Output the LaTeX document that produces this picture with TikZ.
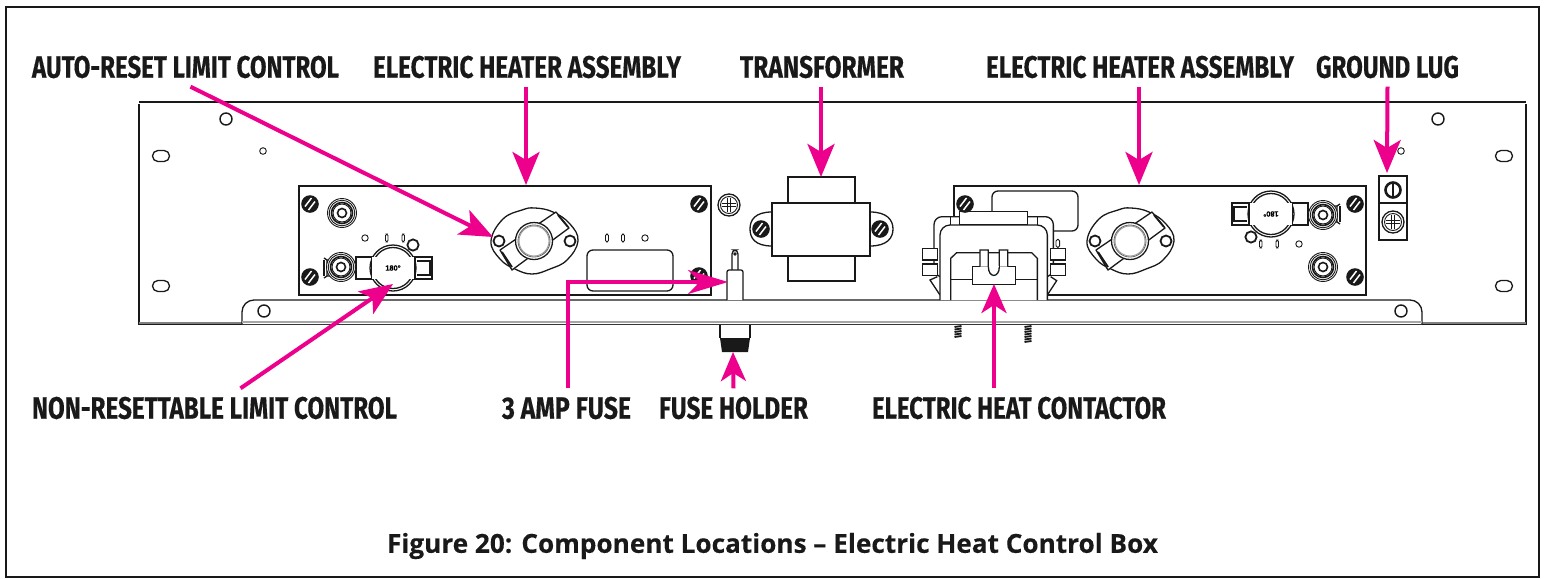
\documentclass[tikz,border=0pt]{standalone}
\usepackage{graphicx}
\usepackage{fontspec}
\setmainfont{Open Sans}
\newfontfamily\lblfont[FakeBold=0.35]{Fira Sans Bold}
\newfontfamily\capfont[FakeBold=0.25]{Open Sans Bold}
\newfontfamily\smallfont[FakeBold=0.4]{Liberation Sans Bold}
\usetikzlibrary{arrows.meta}
\newcommand{\lbl}[2]{\resizebox{#1pt}{11pt}{\lblfont #2}}
\tikzset{
  x=.5pt,y=-.5pt,
  ln/.style={draw=black!90,line width=.65pt},
  thin ln/.style={draw=black!90,line width=.45pt},
  callout/.style={inner sep=4pt,text=black!90},
  pink arrow/.style={draw=callpink,line width=2pt,-{Stealth[length=16.5pt,width=13.5pt,inset=4pt]}},
  screwp/.pic={
    \fill[black!90] (0,0) circle[radius=8.8];
    \draw[white,line width=.75pt] (-5,2.5)--(1.5,-6) (-1.5,6)--(5,-2.5);
  },
  nutp/.pic={
    \draw[thin ln,fill=white] (0,0) circle[radius=14.5];
    \draw[thin ln] (0,0) circle[radius=12.8];
    \draw[ln,line width=.8pt] (0,0) circle[radius=10.5];
    \draw[thin ln] (0,0) circle[radius=9];
    \draw[ln,line width=.8pt] (0,0) circle[radius=4.5];
  },
  phillipsp/.pic={
    \draw[ln] (0,0) circle[radius=11];
    \draw[thin ln] (0,0) circle[radius=8.5];
    \draw[ln,line width=.8pt] (-7,-1.5)--(7,-1.5) (-7,1.5)--(7,1.5) (-1.5,-7)--(-1.5,7) (1.5,-7)--(1.5,7);
  },
  slotp/.pic={
    \draw[ln,fill=white,rounded corners=2.7pt] (-8.5,-5.5) rectangle (8.5,5.5);
  },
  autoresetp/.pic={
    \draw[ln,fill=white] plot[smooth cycle,tension=.7] coordinates {(-43,0)(-31,-22)(-12,-31)(1,-33)(19,-29)(36,-17)(44,0)(33,19)(16,28)(-2,33)(-19,28)(-34,18)};
    \draw[ln,fill=white,line join=round] (-34,9)--(22,-29)--(35,-13)--(-22,29)--cycle;
    \draw[ln,line width=.9pt] (24,-26)--(34,-14) (-32,11)--(-22,26);
    \draw[ln,line width=.9pt,fill=white] (-35,0) circle[radius=5.5];
    \draw[ln,line width=.9pt,fill=white] (36,0) circle[radius=5.5];
    \draw[ln,fill=white] (0,0) circle[radius=18.5];
    \draw[thin ln,draw=black!60] (0,0) circle[radius=16];
    \draw[thin ln,draw=black!40] (0,0) circle[radius=15];
  },
  thermop/.pic={
    \draw[ln,fill=white] (-37,-11) rectangle (39,11);
    \draw[ln] (24,-7)--(37,-7)--(37,7)--(24,7);
    \draw[ln,fill=white] (0,0) circle[radius=23];
    \draw[ln] (0,0) circle[radius=20.5];
    \fill[white] (-21.2,-11) rectangle (21.7,11);
    \draw[ln] (-21.5,-11)--(-21.5,11) (22,-11)--(22,11);
    \node[transform shape,inner sep=0pt,font=\smallfont\fontsize{3.7}{5}\selectfont] at (0,0) {180°};
    \draw[thin ln] (-28,-30) circle[radius=3.2];
    \draw[thin ln,rounded corners=.8pt] (-7.5,-34) rectangle (-5,-26);
    \draw[thin ln,rounded corners=.8pt] (9,-34) rectangle (11.5,-26);
    \draw[ln,line width=.9pt] (20,-23) circle[radius=5.6];
    \draw[ln] (-53,-8)--(-66,-8)--(-69,-10) (-66,-8)--(-66,8)--(-69,10) (-53,8)--(-66,8);
    \draw[ln] (-69,-8)--(-69,8);
    \pic at (-52,-1) {nutp};
  },
}
\definecolor{callpink}{RGB}{236,0,140}
\begin{document}
\begin{tikzpicture}
\useasboundingbox (0,0) rectangle (1544,579);
% outer frame
\draw[draw=black!90,line width=1pt] (6,7) rectangle (1539,577);

% panel
\draw[ln] (139,103.5) -- (139,324) -- (1526,324) -- (1526,103.5);
\draw[ln,line width=1pt] (139,102) -- (1526,102);
\draw[ln,draw=black!50,line width=1pt] (139,322.5) -- (242,322.5) (1422,322.5) -- (1526,322.5);
\draw[ln,fill=white,rounded corners=6pt] (242,324) -- (242,300) -- (1422,300) -- (1422,324);
\draw[ln,draw=black!35,line width=.8pt] (242,321.8) -- (1422,321.8);
\foreach \p in {(226,119),(264,311),(1438,119),(1401,311)} \draw[ln,line width=.7pt] \p circle[radius=6];
\foreach \p in {(263,151),(1401,151)} \draw[thin ln] \p circle[radius=3.3];
\foreach \p in {(161,156),(161,286),(1504,156),(1504,286)} \pic at \p {slotp};

% left sub-panel
\draw[ln] (299,186) rectangle (711,295);
\foreach \p in {(310,204),(310,277),(699,204),(699,276)} \pic at \p {screwp};
\pic at (342,213) {nutp};
\pic at (393,268) {thermop};
\pic at (534,241) {autoresetp};
\draw[ln,fill=white,rounded corners=3pt] (587,250) rectangle (673,291);
\foreach \xx in {607,623} \draw[thin ln,rounded corners=.8pt] (\xx-1.5,234) rectangle (\xx+1.5,242);
\draw[thin ln] (645,238) circle[radius=3.2];
\pic at (729,205) {phillipsp};

% right sub-panel
\draw[ln] (954,186) rectangle (1366,295);
\foreach \p in {(1355,204),(1355,277)} \pic at \p {screwp};
\draw[ln,rounded corners=3pt] (992,231) -- (992,191) -- (1078,191) -- (1078,231) -- cycle;
\pic at (1130,241) {autoresetp};
\pic[rotate=180] at (1271,214) {thermop};
\pic at (1323,267) {nutp};

% ground lug
\draw[ln,line width=.8pt] (1379,176) rectangle (1407,240);
\draw[ln] (1379,203) -- (1407,203);
\draw[ln,line width=1.3pt] (1393,190) circle[radius=7.5];
\draw[ln,line width=1pt] (1393,182.5) -- (1393,197.5);
\pic at (1393,222) {phillipsp};

% transformer
\draw[ln,fill=white] (788,177) rectangle (855,281);
\draw[ln,fill=white] (772,212) .. controls (755,212) and (750,220) .. (750,229) .. controls (750,238) and (755,246) .. (772,246) -- cycle;
\draw[ln,fill=white] (870,212) .. controls (887,212) and (893,220) .. (893,229) .. controls (893,238) and (887,246) .. (870,246) -- cycle;
\draw[ln,fill=white] (772,203) rectangle (870,256);
\pic at (761,229) {screwp};
\pic at (880,229) {screwp};

% fuse and holder
\draw[ln,rounded corners=2pt,fill=white] (732,270) -- (732,250) -- (738,250) -- (738,270);
\draw[thin ln,fill=black!70] (735,254) circle[radius=1.2];
\draw[ln,fill=white,rounded corners=1pt] (727,300) -- (727,270) -- (743,270) -- (743,300);
\draw[ln] (720,325) -- (720,338) (750,325) -- (750,338);
\fill[black!90] (720,338) -- (750,338) -- (748,352) -- (722,352) -- cycle;

% contactor
\begin{scope}[shift={(740,160)},x=.16667pt,y=-.16667pt]
  \draw[ln,fill=white,rounded corners=4pt] (582,350) -- (582,170) -- (940,170) -- (940,350) -- cycle;
  \draw[ln,fill=white] (548,266) rectangle (592,300);
  \draw[ln,fill=white] (548,312) rectangle (592,346);
  \draw[ln,fill=white] (932,266) rectangle (976,300);
  \draw[ln,fill=white] (932,312) rectangle (976,346);
  \draw[ln,fill=white] (592,350) -- (570,360) -- (600,405) (932,350) -- (950,362) -- (922,405);
  \draw[thin ln,rounded corners=.8pt] (948,238) rectangle (959,262);
  \draw[ln,fill=white] (659,155) rectangle (863,195);
  \draw[ln] (632,170) -- (632,195) (892,170) -- (892,195);
  \draw[ln,fill=white,rounded corners=5pt] (600,420) -- (600,195) -- (922,195) -- (922,420);
  \draw[ln,fill=white] (632,420) -- (632,295) -- (650,278) -- (875,278) -- (892,295) -- (892,420);
  \draw[ln] (632,358) -- (892,358);
  \draw[ln,fill=white] (697,320) rectangle (826,373);
  \draw[ln,fill=white] (720,320) -- (720,270) -- (745,270) -- (745,320) .. controls (745,355) and (778,355) .. (778,320) -- (778,270) -- (803,270) -- (803,320);
  \draw[draw=white,line width=.8pt] (746,320) -- (777,320);
\end{scope}
\pic at (965,204) {screwp};
% contactor mounting screws
\foreach \k in {0,2.5,...,10} \draw[black!90,line width=.9pt] (954.5,326+\k+1) -- (961.5,326+\k);
\foreach \k in {0,2.5,...,15} \draw[black!90,line width=.9pt] (1024.5,326+\k+1) -- (1031.5,326+\k);

% labels
\node[callout] (auto) at (185.5,67) {\lbl{153.5}{AUTO-RESET LIMIT CONTROL}};
\node[callout] (heatA) at (527,67) {\lbl{154}{ELECTRIC HEATER ASSEMBLY}};
\node[callout] (trans) at (822,67) {\lbl{82}{TRANSFORMER}};
\node[callout] (heatB) at (1140,67) {\lbl{154}{ELECTRIC HEATER ASSEMBLY}};
\node[callout] (lug) at (1387.5,67) {\lbl{71.5}{GROUND LUG}};
\node[callout] (nonres) at (214.5,408) {\lbl{182.5}{NON-RESETTABLE LIMIT CONTROL}};
\node[callout] (fuse) at (566.5,408) {\lbl{64.5}{3 AMP FUSE}};
\node[callout] (holder) at (733.5,408) {\lbl{74.5}{FUSE HOLDER}};
\node[callout] (contactor) at (1019,408) {\lbl{147}{ELECTRIC HEAT CONTACTOR}};
\node[inner sep=0pt,text=black!90] (caption) at (772.5,546) {\resizebox{385.5pt}{!}{\capfont\fontsize{13}{16}\selectfont Figure 20: Component Locations – Electric Heat Control Box}};

% arrow targets
\coordinate (tAuto) at (493,237);
\coordinate (tHeatA) at (526,185);
\coordinate (tTrans) at (821,177);
\coordinate (tHeatB) at (1139,185);
\coordinate (tLug) at (1387,173);
\coordinate (tNon) at (393,284);
\coordinate (tFuse) at (728,282);
\coordinate (tHolder) at (733,352);
\coordinate (tCont) at (994,284);
\coordinate (bendFuse) at (568,282);

% arrows
\draw[pink arrow] ([xshift=2.5pt]auto.south) -- (tAuto);
\draw[pink arrow] ([xshift=-.5pt]heatA.south) -- (tHeatA);
\draw[pink arrow] ([xshift=-.5pt]trans.south) -- (tTrans);
\draw[pink arrow] ([xshift=-.5pt]heatB.south) -- (tHeatB);
\draw[pink arrow] (lug.south) -- (tLug);
\draw[pink arrow] ([xshift=13pt]nonres.north) -- (tNon);
\draw[pink arrow,-{Stealth[length=20pt,width=12pt,inset=6pt]},line join=miter] ([xshift=.75pt]fuse.north) -- (bendFuse) -- (tFuse);
\draw[pink arrow,-{Stealth[length=14.5pt,width=12.5pt,inset=4pt]}] (holder.north) -- (tHolder);
\draw[pink arrow,-{Stealth[length=14.5pt,width=12.5pt,inset=4pt]}] ([xshift=-12.5pt]contactor.north) -- (tCont);
\end{tikzpicture}
\end{document}
